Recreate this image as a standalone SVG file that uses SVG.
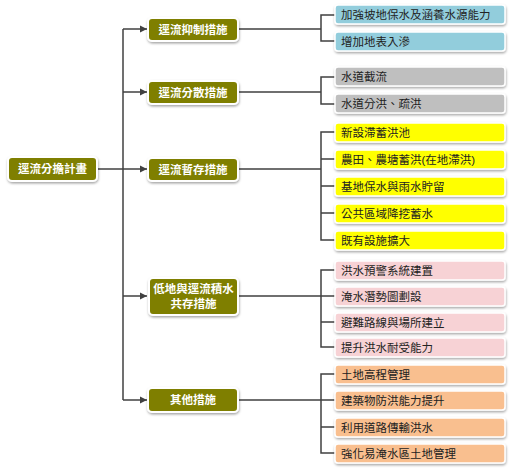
<svg xmlns="http://www.w3.org/2000/svg" width="513" height="470" viewBox="0 0 513 470">
<style>
text{font-family:"Liberation Sans","Noto Sans CJK TC",sans-serif;font-size:11.5px;dominant-baseline:central}
.m rect{fill:#7F7F00;stroke:#fff;stroke-width:2;filter:url(#sh)}
.m text{fill:#fff;text-anchor:middle;font-weight:bold}
.l rect{stroke:#fff;stroke-width:1.5;filter:url(#sh)}
.l text{fill:#222}
.b rect{fill:#92CDDC}.g rect{fill:#BFBFBF}.y rect{fill:#FFFF00}.p rect{fill:#F7D2D5}.o rect{fill:#F9BF8F}
#conn path{fill:none;stroke:#404040;stroke-width:1.5}
</style>
<defs>
<filter id="sh" x="-10%" y="-30%" width="120%" height="170%"><feDropShadow dx="0.5" dy="1.5" stdDeviation="1.2" flood-color="#000" flood-opacity="0.35"/></filter>
<marker id="ar" markerWidth="8" markerHeight="8" refX="7" refY="4" orient="auto" markerUnits="userSpaceOnUse"><path d="M0,0.5 L7,4 L0,7.5 Z" fill="#404040"/></marker>
</defs>
<rect width="513" height="470" fill="#fff"/>
<g id="conn">
<path d="M97,169 H123"/>
<path d="M123,29 V400"/>
<path d="M123,29 H147" marker-end="url(#ar)"/>
<path d="M123,92 H147" marker-end="url(#ar)"/>
<path d="M123,169 H147" marker-end="url(#ar)"/>
<path d="M123,296 H147" marker-end="url(#ar)"/>
<path d="M123,400 H147" marker-end="url(#ar)"/>
<path d="M238,29 H321 M335,15 H321 V41 H335"/>
<path d="M238,92 H321 M335,77 H321 V104 H335"/>
<path d="M238,169 H321 M335,132 H321 V240 H335 M321,159 H335 M321,186 H335 M321,213 H335"/>
<path d="M238,296 H321 M335,270 H321 V347 H335 M321,296 H335 M321,322 H335"/>
<path d="M238,400 H321 M335,374 H321 V453 H335 M321,400 H335 M321,427 H335"/>
</g>
<g id="root" class="m"><rect x="8" y="157" width="89" height="24" rx="4"/><text x="52.5" y="169">逕流分擔計畫</text></g>
<g id="n1" class="m"><rect x="148" y="18" width="90" height="23" rx="4"/><text x="193" y="29.5">逕流抑制措施</text></g>
<g id="n2" class="m"><rect x="148" y="81" width="90" height="23" rx="4"/><text x="193" y="92.5">逕流分散措施</text></g>
<g id="n3" class="m"><rect x="148" y="158" width="90" height="23" rx="4"/><text x="193" y="169.5">逕流暫存措施</text></g>
<g id="n4" class="m"><rect x="149" y="278" width="89" height="37" rx="4"/><text x="193.5" y="289">低地與逕流積水</text><text x="193.5" y="304">共存措施</text></g>
<g id="n5" class="m"><rect x="148" y="388" width="90" height="24" rx="4"/><text x="193" y="400">其他措施</text></g>
<g id="a1" class="l b"><rect x="335" y="5" width="170" height="19" rx="3"/><text x="341" y="14.5">加強坡地保水及涵養水源能力</text></g>
<g id="a2" class="l b"><rect x="335" y="32" width="170" height="19" rx="3"/><text x="341" y="41.5">增加地表入滲</text></g>
<g id="b1" class="l g"><rect x="335" y="67" width="170" height="19" rx="3"/><text x="341" y="76.5">水道截流</text></g>
<g id="b2" class="l g"><rect x="335" y="94" width="170" height="19" rx="3"/><text x="341" y="103.5">水道分洪、疏洪</text></g>
<g id="c1" class="l y"><rect x="335" y="123" width="170" height="19" rx="3"/><text x="341" y="132.5">新設滯蓄洪池</text></g>
<g id="c2" class="l y"><rect x="335" y="150" width="170" height="19" rx="3"/><text x="341" y="159.5">農田、農塘蓄洪(在地滯洪)</text></g>
<g id="c3" class="l y"><rect x="335" y="177" width="170" height="19" rx="3"/><text x="341" y="186.5">基地保水與雨水貯留</text></g>
<g id="c4" class="l y"><rect x="335" y="204" width="170" height="19" rx="3"/><text x="341" y="213.5">公共區域降挖蓄水</text></g>
<g id="c5" class="l y"><rect x="335" y="231" width="170" height="19" rx="3"/><text x="341" y="240.5">既有設施擴大</text></g>
<g id="d1" class="l p"><rect x="335" y="261" width="170" height="19" rx="3"/><text x="341" y="270.5">洪水預警系統建置</text></g>
<g id="d2" class="l p"><rect x="335" y="287" width="170" height="19" rx="3"/><text x="341" y="296.5">淹水潛勢圖劃設</text></g>
<g id="d3" class="l p"><rect x="335" y="313" width="170" height="19" rx="3"/><text x="341" y="322.5">避難路線與場所建立</text></g>
<g id="d4" class="l p"><rect x="335" y="338" width="170" height="19" rx="3"/><text x="341" y="347.5">提升洪水耐受能力</text></g>
<g id="e1" class="l o"><rect x="335" y="365" width="170" height="19" rx="3"/><text x="341" y="374.5">土地高程管理</text></g>
<g id="e2" class="l o"><rect x="335" y="391" width="170" height="19" rx="3"/><text x="341" y="400.5">建築物防洪能力提升</text></g>
<g id="e3" class="l o"><rect x="335" y="418" width="170" height="19" rx="3"/><text x="341" y="427.5">利用道路傳輸洪水</text></g>
<g id="e4" class="l o"><rect x="335" y="444" width="170" height="19" rx="3"/><text x="341" y="453.5">強化易淹水區土地管理</text></g>
</svg>
